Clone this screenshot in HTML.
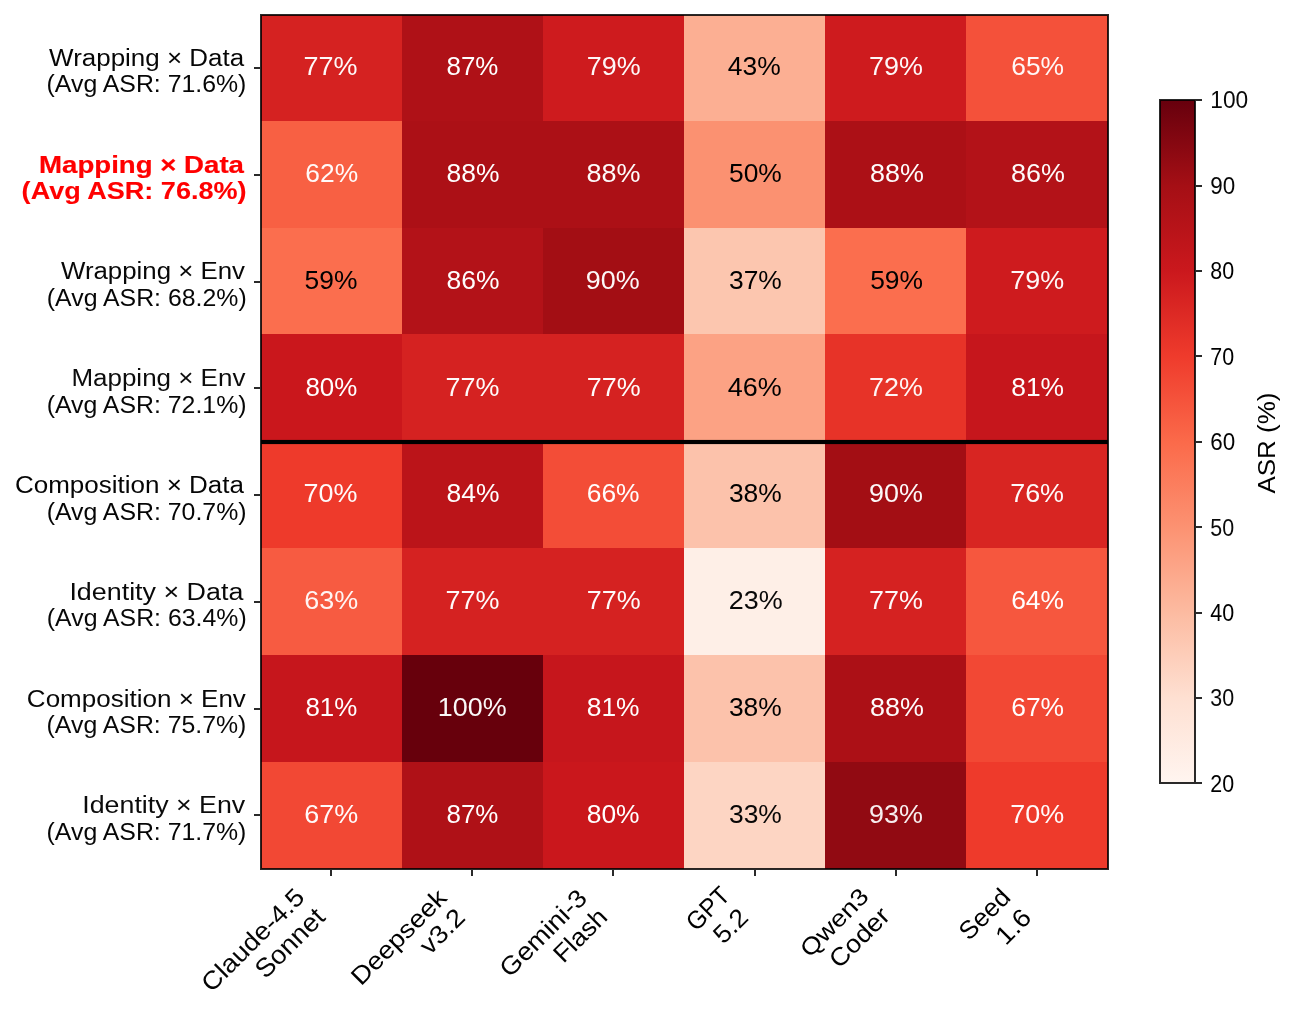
<!DOCTYPE html><html><head><meta charset="utf-8"><title>ASR heatmap</title><style>html,body{margin:0;padding:0;background:#fff;width:1296px;height:1031px;overflow:hidden}svg{display:block;will-change:transform;font-family:"Liberation Sans",sans-serif}</style></head><body>
<svg width="1296" height="1031" viewBox="0 0 1296 1031">
<rect x="0" y="0" width="1296" height="1031" fill="#fff"/>
<g shape-rendering="crispEdges">
<rect x="261" y="15" width="141" height="106" fill="#d52221"/>
<rect x="402" y="15" width="141" height="106" fill="#af1117"/>
<rect x="543" y="15" width="141" height="106" fill="#ce1b1e"/>
<rect x="684" y="15" width="141" height="106" fill="#fcaf93"/>
<rect x="825" y="15" width="141" height="106" fill="#ce1b1e"/>
<rect x="966" y="15" width="142" height="106" fill="#f4513a"/>
<rect x="261" y="121" width="141" height="107" fill="#f86043"/>
<rect x="402" y="121" width="141" height="107" fill="#ac1016"/>
<rect x="543" y="121" width="141" height="107" fill="#ac1016"/>
<rect x="684" y="121" width="141" height="107" fill="#fb9171"/>
<rect x="825" y="121" width="141" height="107" fill="#ac1016"/>
<rect x="966" y="121" width="142" height="107" fill="#b31218"/>
<rect x="261" y="228" width="141" height="106" fill="#fb6e4e"/>
<rect x="402" y="228" width="141" height="106" fill="#b31218"/>
<rect x="543" y="228" width="141" height="106" fill="#a30e14"/>
<rect x="684" y="228" width="141" height="106" fill="#fcc6af"/>
<rect x="825" y="228" width="141" height="106" fill="#fb6e4e"/>
<rect x="966" y="228" width="142" height="106" fill="#ce1b1e"/>
<rect x="261" y="334" width="141" height="108" fill="#ca171c"/>
<rect x="402" y="334" width="141" height="108" fill="#d52221"/>
<rect x="543" y="334" width="141" height="108" fill="#d52221"/>
<rect x="684" y="334" width="141" height="108" fill="#fca284"/>
<rect x="825" y="334" width="141" height="108" fill="#e73328"/>
<rect x="966" y="334" width="142" height="108" fill="#c6161c"/>
<rect x="261" y="442" width="141" height="106" fill="#ee3a2b"/>
<rect x="402" y="442" width="141" height="106" fill="#bb1419"/>
<rect x="543" y="442" width="141" height="106" fill="#f34d37"/>
<rect x="684" y="442" width="141" height="106" fill="#fcc2ab"/>
<rect x="825" y="442" width="141" height="106" fill="#a30e14"/>
<rect x="966" y="442" width="142" height="106" fill="#d82522"/>
<rect x="261" y="548" width="141" height="107" fill="#f75b41"/>
<rect x="402" y="548" width="141" height="107" fill="#d52221"/>
<rect x="543" y="548" width="141" height="107" fill="#d52221"/>
<rect x="684" y="548" width="141" height="107" fill="#feefe7"/>
<rect x="825" y="548" width="141" height="107" fill="#d52221"/>
<rect x="966" y="548" width="142" height="107" fill="#f6573e"/>
<rect x="261" y="655" width="141" height="107" fill="#c6161c"/>
<rect x="402" y="655" width="141" height="107" fill="#67000c"/>
<rect x="543" y="655" width="141" height="107" fill="#c6161c"/>
<rect x="684" y="655" width="141" height="107" fill="#fcc2ab"/>
<rect x="825" y="655" width="141" height="107" fill="#ac1016"/>
<rect x="966" y="655" width="142" height="107" fill="#f24834"/>
<rect x="261" y="762" width="141" height="107" fill="#f24834"/>
<rect x="402" y="762" width="141" height="107" fill="#af1117"/>
<rect x="543" y="762" width="141" height="107" fill="#ca171c"/>
<rect x="684" y="762" width="141" height="107" fill="#fdd5c3"/>
<rect x="825" y="762" width="141" height="107" fill="#910a12"/>
<rect x="966" y="762" width="142" height="107" fill="#ee3a2b"/>
<rect x="261" y="440" width="847" height="4" fill="#000"/>
<rect x="261" y="439" width="847" height="1" fill="#000" fill-opacity="0.085"/>
<rect x="261" y="444" width="847" height="1" fill="#000" fill-opacity="0.085"/>
<rect x="260" y="14" width="849" height="2" fill="#000" fill-opacity="0.835"/>
<rect x="260" y="868" width="849" height="2" fill="#000" fill-opacity="0.835"/>
<rect x="260" y="16" width="2" height="852" fill="#000" fill-opacity="0.835"/>
<rect x="1107" y="16" width="2" height="852" fill="#000" fill-opacity="0.835"/>
<rect x="254" y="67" width="6" height="2" fill="#000" fill-opacity="0.835"/>
<rect x="254" y="174" width="6" height="2" fill="#000" fill-opacity="0.835"/>
<rect x="254" y="281" width="6" height="2" fill="#000" fill-opacity="0.835"/>
<rect x="254" y="387" width="6" height="2" fill="#000" fill-opacity="0.835"/>
<rect x="254" y="494" width="6" height="2" fill="#000" fill-opacity="0.835"/>
<rect x="254" y="601" width="6" height="2" fill="#000" fill-opacity="0.835"/>
<rect x="254" y="708" width="6" height="2" fill="#000" fill-opacity="0.835"/>
<rect x="254" y="814" width="6" height="2" fill="#000" fill-opacity="0.835"/>
<rect x="330" y="870" width="2" height="6" fill="#000" fill-opacity="0.835"/>
<rect x="471" y="870" width="2" height="6" fill="#000" fill-opacity="0.835"/>
<rect x="612" y="870" width="2" height="6" fill="#000" fill-opacity="0.835"/>
<rect x="754" y="870" width="2" height="6" fill="#000" fill-opacity="0.835"/>
<rect x="895" y="870" width="2" height="6" fill="#000" fill-opacity="0.835"/>
<rect x="1036" y="870" width="2" height="6" fill="#000" fill-opacity="0.835"/>
</g>
<defs><linearGradient id="cg" gradientUnits="userSpaceOnUse" x1="0" y1="783.78" x2="0" y2="100.42">
<stop offset="0.0000" stop-color="#fff5f0"/>
<stop offset="0.1250" stop-color="#fee0d2"/>
<stop offset="0.2500" stop-color="#fcbba1"/>
<stop offset="0.3750" stop-color="#fc9272"/>
<stop offset="0.5000" stop-color="#fb6a4a"/>
<stop offset="0.6250" stop-color="#ef3b2c"/>
<stop offset="0.7500" stop-color="#cb181d"/>
<stop offset="0.8750" stop-color="#a50f15"/>
<stop offset="1.0000" stop-color="#67000d"/>
</linearGradient></defs>
<g shape-rendering="crispEdges">
<rect x="1160" y="100" width="35" height="683" fill="url(#cg)"/>
<rect x="1159" y="99" width="37" height="2" fill="#000" fill-opacity="0.835"/>
<rect x="1159" y="782" width="37" height="2" fill="#000" fill-opacity="0.835"/>
<rect x="1159" y="101" width="2" height="681" fill="#000" fill-opacity="0.835"/>
<rect x="1194" y="101" width="2" height="681" fill="#000" fill-opacity="0.835"/>
<rect x="1196" y="99" width="6" height="2" fill="#000" fill-opacity="0.835"/>
<rect x="1196" y="185" width="6" height="2" fill="#000" fill-opacity="0.835"/>
<rect x="1196" y="270" width="6" height="2" fill="#000" fill-opacity="0.835"/>
<rect x="1196" y="355" width="6" height="2" fill="#000" fill-opacity="0.835"/>
<rect x="1196" y="441" width="6" height="2" fill="#000" fill-opacity="0.835"/>
<rect x="1196" y="526" width="6" height="2" fill="#000" fill-opacity="0.835"/>
<rect x="1196" y="612" width="6" height="2" fill="#000" fill-opacity="0.835"/>
<rect x="1196" y="697" width="6" height="2" fill="#000" fill-opacity="0.835"/>
<rect x="1196" y="782" width="6" height="2" fill="#000" fill-opacity="0.835"/>
</g>
<text transform="translate(211.58,993.30) rotate(-45)" font-size="25.16" fill="#000" fill-opacity="0.985" textLength="133.57" lengthAdjust="spacingAndGlyphs">Claude-4.5</text>
<text transform="translate(265.46,979.81) rotate(-45)" font-size="26.25" fill="#000" fill-opacity="0.977" textLength="86.56" lengthAdjust="spacingAndGlyphs">Sonnet</text>
<text transform="translate(360.89,986.61) rotate(-45)" font-size="24.65" fill="#000" textLength="123.47" lengthAdjust="spacingAndGlyphs">Deepseek</text>
<text transform="translate(429.69,955.73) rotate(-45)" font-size="25.28" fill="#000" fill-opacity="0.982" textLength="52.12" lengthAdjust="spacingAndGlyphs">v3.2</text>
<text transform="translate(509.80,978.45) rotate(-45)" font-size="25.23" fill="#000" fill-opacity="0.985" textLength="111.55" lengthAdjust="spacingAndGlyphs">Gemini-3</text>
<text transform="translate(563.47,964.05) rotate(-45)" font-size="25.16" fill="#000" fill-opacity="0.993" textLength="64.24" lengthAdjust="spacingAndGlyphs">Flash</text>
<text transform="translate(696.28,932.13) rotate(-45)" font-size="25.24" fill="#000" textLength="49.75" lengthAdjust="spacingAndGlyphs">GPT</text>
<text transform="translate(723.55,945.11) rotate(-45)" font-size="25.48" fill="#000" fill-opacity="0.986" textLength="36.98" lengthAdjust="spacingAndGlyphs">5.2</text>
<text transform="translate(809.73,958.40) rotate(-45)" font-size="23.70" fill="#000" textLength="85.54" lengthAdjust="spacingAndGlyphs">Qwen3</text>
<text transform="translate(839.24,969.58) rotate(-45)" font-size="25.16" fill="#000" fill-opacity="0.994" textLength="73.73" lengthAdjust="spacingAndGlyphs">Coder</text>
<text transform="translate(969.09,941.58) rotate(-45)" font-size="25.16" fill="#000" textLength="60.51" lengthAdjust="spacingAndGlyphs">Seed</text>
<text transform="translate(1005.77,946.20) rotate(-45)" font-size="25.48" fill="#000" textLength="38.45" lengthAdjust="spacingAndGlyphs">1.6</text>
<text x="49.14" y="65.57" font-size="23.95" fill="#000" fill-opacity="0.977" textLength="194.96" lengthAdjust="spacingAndGlyphs">Wrapping × Data</text>
<text x="46.56" y="92.17" font-size="23.95" fill="#000" fill-opacity="0.976" textLength="199.85" lengthAdjust="spacingAndGlyphs">(Avg ASR: 71.6%)</text>
<text x="39.02" y="173.35" font-size="23.95" font-weight="bold" stroke="#f00" stroke-width="0.20" fill="#f00" textLength="204.98" lengthAdjust="spacingAndGlyphs">Mapping × Data</text>
<text x="21.64" y="198.95" font-size="23.95" font-weight="bold" stroke="#f00" stroke-width="0.08" fill="#f00" textLength="224.94" lengthAdjust="spacingAndGlyphs">(Avg ASR: 76.8%)</text>
<text x="61.01" y="279.12" font-size="23.95" fill="#000" fill-opacity="0.967" textLength="183.96" lengthAdjust="spacingAndGlyphs">Wrapping × Env</text>
<text x="46.80" y="305.72" font-size="23.95" fill="#000" fill-opacity="0.977" textLength="199.89" lengthAdjust="spacingAndGlyphs">(Avg ASR: 68.2%)</text>
<text x="71.42" y="385.90" font-size="23.95" fill="#000" fill-opacity="0.954" textLength="173.98" lengthAdjust="spacingAndGlyphs">Mapping × Env</text>
<text x="46.69" y="412.50" font-size="23.95" fill="#000" fill-opacity="0.971" textLength="199.85" lengthAdjust="spacingAndGlyphs">(Avg ASR: 72.1%)</text>
<text x="15.01" y="492.67" font-size="23.95" fill="#000" fill-opacity="0.981" textLength="228.98" lengthAdjust="spacingAndGlyphs">Composition × Data</text>
<text x="46.69" y="520.27" font-size="23.95" fill="#000" fill-opacity="0.979" textLength="199.85" lengthAdjust="spacingAndGlyphs">(Avg ASR: 70.7%)</text>
<text x="69.41" y="600.45" font-size="23.95" fill="#000" fill-opacity="0.966" textLength="173.97" lengthAdjust="spacingAndGlyphs">Identity × Data</text>
<text x="46.80" y="626.05" font-size="23.95" fill="#000" fill-opacity="0.970" textLength="199.89" lengthAdjust="spacingAndGlyphs">(Avg ASR: 63.4%)</text>
<text x="26.89" y="707.22" font-size="23.95" fill="#000" fill-opacity="0.970" textLength="218.99" lengthAdjust="spacingAndGlyphs">Composition × Env</text>
<text x="46.56" y="732.82" font-size="23.95" fill="#000" fill-opacity="0.968" textLength="199.85" lengthAdjust="spacingAndGlyphs">(Avg ASR: 75.7%)</text>
<text x="82.29" y="813.00" font-size="23.95" fill="#000" fill-opacity="0.957" textLength="162.94" lengthAdjust="spacingAndGlyphs">Identity × Env</text>
<text x="46.56" y="839.60" font-size="23.95" fill="#000" fill-opacity="0.975" textLength="199.85" lengthAdjust="spacingAndGlyphs">(Avg ASR: 71.7%)</text>
<text x="303.43" y="75.07" font-size="26.50" fill="#fff" fill-opacity="0.977" textLength="53.97" lengthAdjust="spacingAndGlyphs">77%</text>
<text x="446.57" y="75.07" font-size="26.50" fill="#fff" textLength="51.85" lengthAdjust="spacingAndGlyphs">87%</text>
<text x="586.79" y="75.07" font-size="26.50" fill="#fff" fill-opacity="0.968" textLength="53.89" lengthAdjust="spacingAndGlyphs">79%</text>
<text x="727.86" y="75.07" font-size="26.50" fill="#000" textLength="52.89" lengthAdjust="spacingAndGlyphs">43%</text>
<text x="869.09" y="75.07" font-size="26.50" fill="#fff" fill-opacity="0.969" textLength="53.89" lengthAdjust="spacingAndGlyphs">79%</text>
<text x="1011.26" y="75.07" font-size="26.50" fill="#fff" fill-opacity="0.960" textLength="52.83" lengthAdjust="spacingAndGlyphs">65%</text>
<text x="305.36" y="181.85" font-size="26.50" fill="#fff" fill-opacity="0.969" textLength="52.83" lengthAdjust="spacingAndGlyphs">62%</text>
<text x="446.50" y="181.85" font-size="26.50" fill="#fff" textLength="52.89" lengthAdjust="spacingAndGlyphs">88%</text>
<text x="586.59" y="181.85" font-size="26.50" fill="#fff" fill-opacity="0.984" textLength="53.97" lengthAdjust="spacingAndGlyphs">88%</text>
<text x="729.03" y="181.85" font-size="26.50" fill="#000" textLength="52.83" lengthAdjust="spacingAndGlyphs">50%</text>
<text x="869.97" y="181.85" font-size="26.50" fill="#fff" fill-opacity="0.987" textLength="53.89" lengthAdjust="spacingAndGlyphs">88%</text>
<text x="1011.11" y="181.85" font-size="26.50" fill="#fff" fill-opacity="0.981" textLength="53.89" lengthAdjust="spacingAndGlyphs">86%</text>
<text x="304.58" y="288.62" font-size="26.50" fill="#000" textLength="52.83" lengthAdjust="spacingAndGlyphs">59%</text>
<text x="446.50" y="288.62" font-size="26.50" fill="#fff" fill-opacity="0.998" textLength="52.89" lengthAdjust="spacingAndGlyphs">86%</text>
<text x="585.79" y="288.62" font-size="26.50" fill="#fff" fill-opacity="0.968" textLength="53.89" lengthAdjust="spacingAndGlyphs">90%</text>
<text x="728.97" y="288.62" font-size="26.50" fill="#000" textLength="52.83" lengthAdjust="spacingAndGlyphs">37%</text>
<text x="870.18" y="288.62" font-size="26.50" fill="#000" textLength="52.83" lengthAdjust="spacingAndGlyphs">59%</text>
<text x="1010.24" y="288.62" font-size="26.50" fill="#fff" fill-opacity="0.970" textLength="53.89" lengthAdjust="spacingAndGlyphs">79%</text>
<text x="305.44" y="396.40" font-size="26.50" fill="#fff" textLength="51.85" lengthAdjust="spacingAndGlyphs">80%</text>
<text x="445.58" y="396.40" font-size="26.50" fill="#fff" fill-opacity="0.979" textLength="53.95" lengthAdjust="spacingAndGlyphs">77%</text>
<text x="586.79" y="396.40" font-size="26.50" fill="#fff" fill-opacity="0.980" textLength="53.89" lengthAdjust="spacingAndGlyphs">77%</text>
<text x="727.78" y="396.40" font-size="26.50" fill="#000" textLength="53.93" lengthAdjust="spacingAndGlyphs">46%</text>
<text x="869.03" y="396.40" font-size="26.50" fill="#fff" fill-opacity="0.951" textLength="53.89" lengthAdjust="spacingAndGlyphs">72%</text>
<text x="1011.21" y="396.40" font-size="26.50" fill="#fff" fill-opacity="0.992" textLength="52.83" lengthAdjust="spacingAndGlyphs">81%</text>
<text x="303.47" y="502.17" font-size="26.50" fill="#fff" fill-opacity="0.975" textLength="53.91" lengthAdjust="spacingAndGlyphs">70%</text>
<text x="446.50" y="502.17" font-size="26.50" fill="#fff" textLength="52.89" lengthAdjust="spacingAndGlyphs">84%</text>
<text x="586.71" y="502.17" font-size="26.50" fill="#fff" fill-opacity="0.993" textLength="52.83" lengthAdjust="spacingAndGlyphs">66%</text>
<text x="728.92" y="502.17" font-size="26.50" fill="#000" textLength="52.83" lengthAdjust="spacingAndGlyphs">38%</text>
<text x="869.09" y="502.17" font-size="26.50" fill="#fff" fill-opacity="0.969" textLength="53.89" lengthAdjust="spacingAndGlyphs">90%</text>
<text x="1010.18" y="502.17" font-size="26.50" fill="#fff" fill-opacity="0.977" textLength="53.89" lengthAdjust="spacingAndGlyphs">76%</text>
<text x="304.37" y="608.95" font-size="26.50" fill="#fff" fill-opacity="0.936" textLength="53.91" lengthAdjust="spacingAndGlyphs">63%</text>
<text x="445.58" y="608.95" font-size="26.50" fill="#fff" fill-opacity="0.979" textLength="53.95" lengthAdjust="spacingAndGlyphs">77%</text>
<text x="586.79" y="608.95" font-size="26.50" fill="#fff" fill-opacity="0.980" textLength="53.89" lengthAdjust="spacingAndGlyphs">77%</text>
<text x="728.88" y="608.95" font-size="26.50" fill="#000" fill-opacity="0.964" textLength="53.89" lengthAdjust="spacingAndGlyphs">23%</text>
<text x="869.09" y="608.95" font-size="26.50" fill="#fff" fill-opacity="0.981" textLength="53.89" lengthAdjust="spacingAndGlyphs">77%</text>
<text x="1011.14" y="608.95" font-size="26.50" fill="#fff" textLength="52.83" lengthAdjust="spacingAndGlyphs">64%</text>
<text x="305.44" y="715.72" font-size="26.50" fill="#fff" textLength="51.85" lengthAdjust="spacingAndGlyphs">81%</text>
<text x="437.71" y="715.72" font-size="26.50" fill="#fff" fill-opacity="0.974" textLength="68.87" lengthAdjust="spacingAndGlyphs">100%</text>
<text x="586.74" y="715.72" font-size="26.50" fill="#fff" fill-opacity="0.991" textLength="52.85" lengthAdjust="spacingAndGlyphs">81%</text>
<text x="728.92" y="715.72" font-size="26.50" fill="#000" textLength="52.83" lengthAdjust="spacingAndGlyphs">38%</text>
<text x="869.97" y="715.72" font-size="26.50" fill="#fff" fill-opacity="0.987" textLength="53.89" lengthAdjust="spacingAndGlyphs">88%</text>
<text x="1011.21" y="715.72" font-size="26.50" fill="#fff" fill-opacity="0.995" textLength="52.83" lengthAdjust="spacingAndGlyphs">67%</text>
<text x="304.35" y="822.50" font-size="26.50" fill="#fff" fill-opacity="0.976" textLength="53.93" lengthAdjust="spacingAndGlyphs">67%</text>
<text x="446.57" y="822.50" font-size="26.50" fill="#fff" textLength="51.85" lengthAdjust="spacingAndGlyphs">87%</text>
<text x="586.74" y="822.50" font-size="26.50" fill="#fff" textLength="52.85" lengthAdjust="spacingAndGlyphs">80%</text>
<text x="728.97" y="822.50" font-size="26.50" fill="#000" fill-opacity="0.972" textLength="52.83" lengthAdjust="spacingAndGlyphs">33%</text>
<text x="869.09" y="822.50" font-size="26.50" fill="#fff" fill-opacity="0.931" textLength="53.89" lengthAdjust="spacingAndGlyphs">93%</text>
<text x="1010.24" y="822.50" font-size="26.50" fill="#fff" fill-opacity="0.978" textLength="53.89" lengthAdjust="spacingAndGlyphs">70%</text>
<text x="1210.31" y="791.54" font-size="23.08" fill="#000" textLength="23.83" lengthAdjust="spacingAndGlyphs">20</text>
<text x="1210.31" y="706.06" font-size="23.08" fill="#000" fill-opacity="0.963" textLength="23.83" lengthAdjust="spacingAndGlyphs">30</text>
<text x="1210.22" y="620.63" font-size="23.08" fill="#000" textLength="23.92" lengthAdjust="spacingAndGlyphs">40</text>
<text x="1210.31" y="536.22" font-size="23.08" fill="#000" fill-opacity="0.959" textLength="23.83" lengthAdjust="spacingAndGlyphs">50</text>
<text x="1210.25" y="449.79" font-size="23.08" fill="#000" fill-opacity="0.983" textLength="24.92" lengthAdjust="spacingAndGlyphs">60</text>
<text x="1210.31" y="365.38" font-size="23.08" fill="#000" textLength="23.83" lengthAdjust="spacingAndGlyphs">70</text>
<text x="1210.31" y="278.96" font-size="23.08" fill="#000" textLength="23.83" lengthAdjust="spacingAndGlyphs">80</text>
<text x="1210.25" y="193.53" font-size="23.08" fill="#000" fill-opacity="0.974" textLength="24.92" lengthAdjust="spacingAndGlyphs">90</text>
<text x="1210.26" y="108.12" font-size="23.08" fill="#000" fill-opacity="0.965" textLength="37.92" lengthAdjust="spacingAndGlyphs">100</text>
<text transform="translate(1274.59,493.60) rotate(-90)" font-size="23.95" fill="#000" textLength="100.98" lengthAdjust="spacingAndGlyphs">ASR (%)</text>
</svg></body></html>
